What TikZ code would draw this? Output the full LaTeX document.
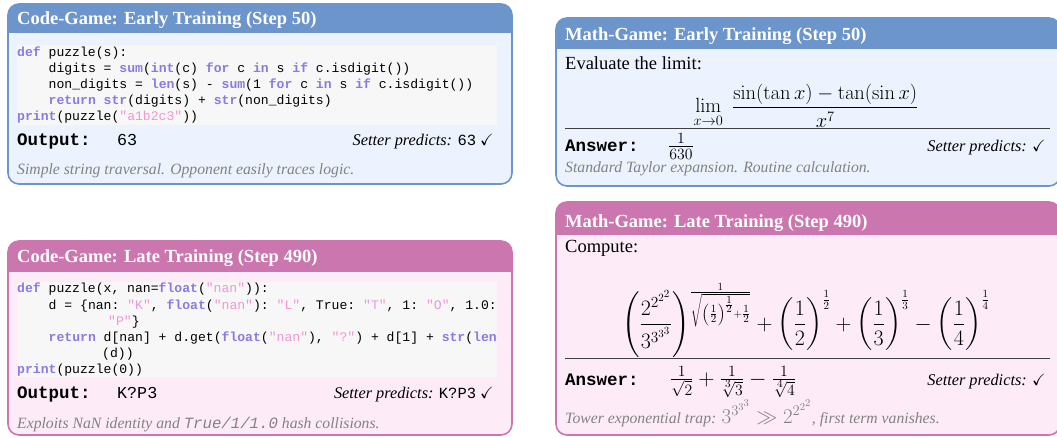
\RequirePackage{fix-cm}
\documentclass[tikz,border=0pt]{standalone}
\usepackage{amssymb}
\usepackage[no-math]{fontspec}
\setmainfont{Liberation Serif}
\setmonofont{Liberation Mono}

\definecolor{headblue}{RGB}{108,149,204}
\definecolor{bodyblue}{RGB}{236,243,254}
\definecolor{headpink}{RGB}{204,118,176}
\definecolor{bodypink}{RGB}{253,236,248}
\definecolor{codebg}{RGB}{247,247,247}
\definecolor{keyword}{RGB}{138,122,226}
\definecolor{string}{RGB}{240,150,212}
\definecolor{notegray}{RGB}{130,130,130}

\newcommand{\pykw}[1]{\textcolor{keyword}{\textbf{#1}}}
\newcommand{\pystr}[1]{\textcolor{string}{#1}}

\begin{document}
\begin{tikzpicture}[x=1pt,y=-1pt,
    title/.style={anchor=base west,inner sep=0,text=white,font=\fontsize{18.5}{22}\selectfont\bfseries},
    body/.style={anchor=base west,inner sep=0,font=\fontsize{18.5}{22}\selectfont},
    formula/.style={anchor=base,inner sep=0,font=\fontsize{22}{26}\selectfont},
    answer/.style={anchor=base west,inner sep=0,font=\fontsize{22.5}{26}\selectfont},
    code/.style={anchor=base west,inner sep=0,font=\fontsize{13.1}{16}\selectfont\ttfamily},
    label/.style={anchor=base west,inner sep=0,font=\fontsize{17.5}{20}\selectfont\ttfamily\bfseries},
    value/.style={anchor=base west,inner sep=0,font=\fontsize{16.7}{20}\selectfont\ttfamily},
    setter/.style={anchor=base east,inner sep=0,font=\fontsize{16.3}{20}\selectfont\itshape},
    note/.style={anchor=base west,inner sep=0,text=notegray,font=\fontsize{15.7}{19}\selectfont\itshape},
    frame/.style={rounded corners=11,line width=1.6}]
\useasboundingbox (0,0) rectangle (1057,438);

% code game, early
\begin{scope}
\clip[rounded corners=11] (8,4) rectangle (512,184);
\fill[bodyblue] (8,4) rectangle (512,184);
\fill[headblue] (8,4) rectangle (512,33);
\end{scope}
\draw[frame,headblue] (8,4) rectangle (512,184);
\fill[codebg] (17,45) rectangle (497,125);
\node[title] (ce-title) at (17,25) {Code-Game: Early Training (Step 50)};
\node[code] (ce-l1) at (17,57) {\pykw{def} puzzle(s):};
\node[code] (ce-l2) at (48.5,72.8) {digits = \pykw{sum}(\pykw{int}(c) \pykw{for} c \pykw{in} s \pykw{if} c.isdigit())};
\node[code] (ce-l3) at (48.5,88.6) {non\_digits = \pykw{len}(s) - \pykw{sum}(1 \pykw{for} c \pykw{in} s \pykw{if} c.isdigit())};
\node[code] (ce-l4) at (48.5,104.4) {\pykw{return} \pykw{str}(digits) + \pykw{str}(non\_digits)};
\node[code] (ce-l5) at (17,120.2) {\pykw{print}(puzzle(\pystr{"a1b2c3"}))};
\node[label] (ce-out) at (17,146) {Output:};
\node[value] (ce-val) at (117,146) {63};
\node[setter] (ce-pred) at (494,146) {Setter predicts: {\upshape\ttfamily\fontsize{15.5}{18}\selectfont 63} $\checkmark$};
\node[note] (ce-note) at (17,175) {Simple string traversal. Opponent easily traces logic.};

% code game, late
\begin{scope}
\clip[rounded corners=11] (8,241) rectangle (512,435);
\fill[bodypink] (8,241) rectangle (512,435);
\fill[headpink] (8,241) rectangle (512,272);
\end{scope}
\draw[frame,headpink] (8,241) rectangle (512,435);
\fill[codebg] (17,282) rectangle (497,377);
\node[title] (cl-title) at (17,262) {Code-Game: Late Training (Step 490)};
\node[code] (cl-l1) at (17,293) {\pykw{def} puzzle(x, nan=\pykw{float}(\pystr{"nan"})):};
\node[code] (cl-l2) at (48.5,309.5) {d = \{nan: \pystr{"K"}, \pykw{float}(\pystr{"nan"}): \pystr{"L"}, True: \pystr{"T"}, 1: \pystr{"O"}, 1.0:};
\node[code] (cl-l3) at (108,325.5) {\pystr{"P"}\}};
\node[code] (cl-l4) at (48.5,341.5) {\pykw{return} d[nan] + d.get(\pykw{float}(\pystr{"nan"}), \pystr{"?"}) + d[1] + \pykw{str}(\pykw{len}};
\node[code] (cl-l5) at (102,357.5) {(d))};
\node[code] (cl-l6) at (17,373) {\pykw{print}(puzzle(0))};
\node[label] (cl-out) at (17,398) {Output:};
\node[value] (cl-val) at (117,398) {K?P3};
\node[setter] (cl-pred) at (494,398) {Setter predicts: {\upshape\ttfamily\fontsize{15.5}{18}\selectfont K?P3} $\checkmark$};
\node[note] (cl-note) at (17,428) {Exploits NaN identity and {\ttfamily True/1/1.0} hash collisions.};

% math game, early
\begin{scope}
\clip[rounded corners=11] (556,18) rectangle (1060,186);
\fill[bodyblue] (556,18) rectangle (1060,186);
\fill[headblue] (556,18) rectangle (1060,49);
\end{scope}
\draw[frame,headblue] (556,18) rectangle (1060,186);
\node[title] (me-title) at (565,41) {Math-Game: Early Training (Step 50)};
\node[body] (me-task) at (565,70) {Evaluate the limit:};
\node[formula,font=\fontsize{20.5}{24}\selectfont] (me-eq) at (806,113) {$\displaystyle\lim_{x\to 0}\;\frac{\sin(\tan x)-\tan(\sin x)}{x^{7}}$};
\draw[line width=1,black!75] (565,128.5) -- (1050,128.5);
\node[label] (me-ans) at (565,152) {Answer:};
\node[answer] (me-val) at (668,152) {$\frac{1}{630}$};
\node[setter] (me-pred) at (1046,152) {Setter predicts: $\checkmark$};
\node[note] (me-note) at (565,173) {Standard Taylor expansion. Routine calculation.};

% math game, late
\begin{scope}
\clip[rounded corners=11] (556,202) rectangle (1060,435);
\fill[bodypink] (556,202) rectangle (1060,435);
\fill[headpink] (556,202) rectangle (1060,235);
\end{scope}
\draw[frame,headpink] (556,202) rectangle (1060,435);
\node[title] (ml-title) at (565,228) {Math-Game: Late Training (Step 490)};
\node[body] (ml-task) at (565,253) {Compute:};
\node[formula] (ml-eq) at (806,330) {$\displaystyle\left(\frac{2^{2^{2^{2}}}}{3^{3^{3^{3}}}}\right)^{\frac{1}{\sqrt{\left(\frac{1}{2}\right)^{\frac{1}{2}}+\frac{1}{2}}}}+\left(\frac{1}{2}\right)^{\frac{1}{2}}+\left(\frac{1}{3}\right)^{\frac{1}{3}}-\left(\frac{1}{4}\right)^{\frac{1}{4}}$};
\draw[line width=1,black!75] (565,358) -- (1050,358);
\node[label] (ml-ans) at (565,385) {Answer:};
\node[answer] (ml-val) at (670,385) {$\frac{1}{\sqrt{2}}+\frac{1}{\sqrt[3]{3}}-\frac{1}{\sqrt[4]{4}}$};
\node[setter] (ml-pred) at (1046,385) {Setter predicts: $\checkmark$};
\node[note] (ml-note) at (565,423) {Tower exponential trap: {\fontsize{21}{24}\selectfont$3^{3^{3^{3}}}\gg 2^{2^{2^{2}}}$}, first term vanishes.};
\end{tikzpicture}
\end{document}
